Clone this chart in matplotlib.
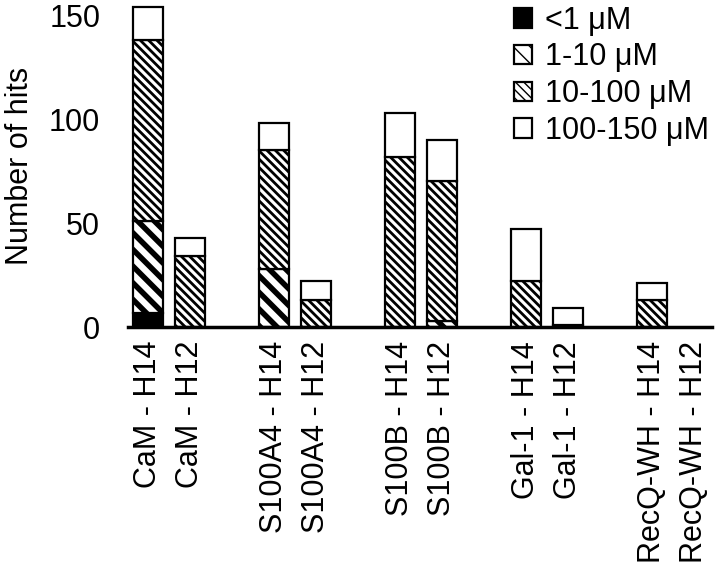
import numpy as np
import matplotlib
matplotlib.use('Agg')
import matplotlib.pyplot as plt

# data
labels = ['CaM - H14', 'CaM - H12', 'S100A4 - H14', 'S100A4 - H12',
          'S100B - H14', 'S100B - H12', 'Gal-1 - H14', 'Gal-1 - H12',
          'RecQ-WH - H14', 'RecQ-WH - H12']
positions = [0, 1, 3, 4, 6, 7, 9, 10, 12, 13]
lt1 = [7, 0, 0, 0, 0, 0, 0, 0, 0, 0]
r1_10 = [44, 0, 28, 0, 0, 3, 0, 0, 0, 0]
r10_100 = [87, 34, 57, 13, 82, 67, 22, 1, 13, 0]
r100_150 = [16, 9, 13, 9, 21, 20, 25, 8, 8, 0]
series_names = ['<1 μM', '1-10 μM', '10-100 μM', '100-150 μM']

plt.rcParams['font.family'] = ['Liberation Sans', 'DejaVu Sans']
fs = 22

fig = plt.figure(figsize=(7.15, 5.81), dpi=100)
ax = fig.add_axes([0.179, 0.437, 0.817, 0.555])

# fill, hatch pattern and hatch line width for each range
styles = [
    dict(color='black', hatch=None, hlw=1.0),
    dict(color='white', hatch='\\\\', hlw=4.0),
    dict(color='white', hatch='\\\\\\\\', hlw=2.0),
    dict(color='white', hatch=None, hlw=1.0),
]
series = [lt1, r1_10, r10_100, r100_150]
bottom = np.zeros(len(labels))
for vals, name, st in zip(series, series_names, styles):
    with plt.rc_context({'hatch.linewidth': st['hlw']}):
        bars = ax.bar(positions, vals, width=0.72, bottom=bottom,
                      color=st['color'], edgecolor='black', linewidth=1.6,
                      hatch=st['hatch'], label=name)
    for b, v in zip(bars, vals):
        if hasattr(b, 'set_hatch_linewidth'):
            b.set_hatch_linewidth(st['hlw'])
        # empty segments are not drawn
        if v == 0:
            b.set_visible(False)
    bottom += np.array(vals)

ax.set_xlim(-0.48, 13.43)
ax.set_ylim(0, 155)
ax.set_yticks([0, 50, 100, 150])
ax.set_xticks(positions)
ax.set_xticklabels(labels, rotation=90, fontsize=fs)
ax.tick_params(axis='y', length=0, pad=20, labelsize=fs)
ax.tick_params(axis='x', length=0, pad=10)
for s in ['top', 'right', 'left']:
    ax.spines[s].set_visible(False)
ax.spines['bottom'].set_linewidth(2.5)
ax.set_ylabel('Number of hits', fontsize=fs, labelpad=10)

ax.legend(loc='upper right', bbox_to_anchor=(1.015, 1.035), frameon=False,
          fontsize=fs, handlelength=0.6, handleheight=0.6,
          handletextpad=0.4, labelspacing=0.22, borderaxespad=0)

fig.savefig('out.png', dpi=100)
